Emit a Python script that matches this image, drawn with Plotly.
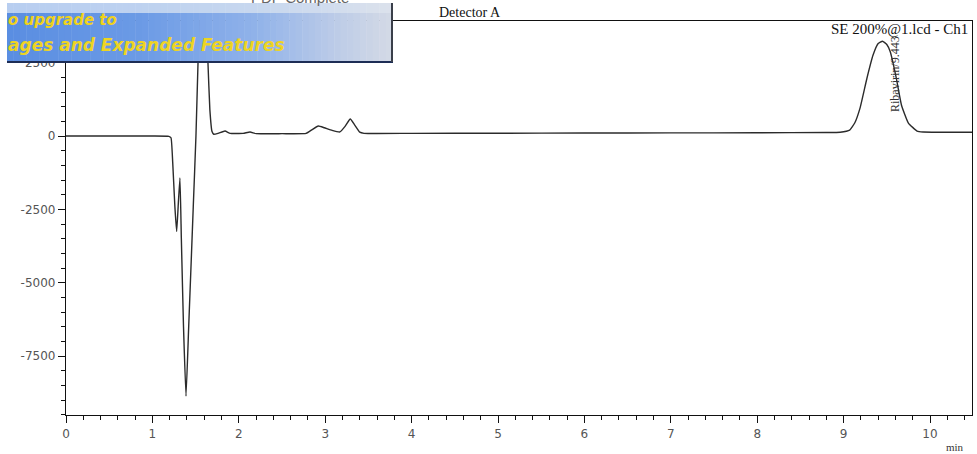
import numpy as np
import plotly.graph_objects as go

# Chromatogram trace, Detector A (retention time in min, signal in mV-like units)
time_min = [0.0, 0.5, 1.0, 1.19, 1.215, 1.235, 1.26, 1.281, 1.30, 1.319, 1.335, 1.36,
            1.389, 1.42, 1.45, 1.473, 1.504, 1.528, 1.56, 1.585, 1.61, 1.643, 1.665,
            1.69, 1.71, 1.76, 1.84, 1.90, 2.05, 2.13, 2.20, 2.50, 2.78, 2.85, 2.92,
            2.99, 3.08, 3.17, 3.23, 3.29, 3.34, 3.40, 3.45, 4.0, 5.0, 6.0, 7.0, 8.0,
            8.8, 8.96, 9.07, 9.13, 9.19, 9.27, 9.34, 9.40, 9.45, 9.50, 9.54, 9.61,
            9.67, 9.75, 9.85, 9.92, 10.1, 10.486]
signal = [0, 0, 0, -10, -60, -900, -2400, -3255, -2300, -1430, -3500, -6500,
          -8867, -6500, -4200, -2405, 0, 2500, 5200, 6000, 5200, 2500, 900,
          150, 60, 90, 170, 90, 90, 136, 80, 80, 90, 220, 340,
          280, 190, 140, 330, 580, 380, 130, 90, 90, 95, 100, 105, 110,
          120, 130, 200, 450, 950, 1970, 2750, 3150, 3230, 3120, 2870, 1970,
          1050, 440, 170, 136, 130, 130]

peak_name = "Ribavirin"
peak_rt = 9.443
x_tickvals = list(range(0, 11))
y_tickvals = [2500, 0, -2500, -5000, -7500]
y_ticktext = ["2500", "0", "-2500", "-5000", "-7500"]

W, H = 977, 454
ML, MR, MT, MB = 66, 5, 21, 39
PW, PH = W - ML - MR, H - MT - MB


def px(x):
    return (x - ML) / PW


def py(y):
    return (H - MB - y) / PH


fig = go.Figure()
fig.add_trace(go.Scatter(
    x=time_min, y=signal, mode="lines",
    line=dict(color="#2b2b2b", width=1.4, shape="spline", smoothing=0.4),
    hoverinfo="x+y", showlegend=False,
))

axis_common = dict(
    showline=True, linecolor="#111", linewidth=1.3, mirror=True,
    showgrid=False, zeroline=False, ticks="outside", ticklen=7,
    tickcolor="#111", tickwidth=1,
    tickfont=dict(family="DejaVu Sans", size=12, color="#555"),
)

fig.update_xaxes(range=[0, 10.486], tickvals=x_tickvals,
                 minor=dict(dtick=0.2, tick0=0, ticks="outside", ticklen=4,
                            tickcolor="#111"),
                 **axis_common)
fig.update_yaxes(range=[-9510, 3920], tickvals=y_tickvals, ticktext=y_ticktext,
                 minor=dict(dtick=500, tick0=0, ticks="outside", ticklen=4,
                            tickcolor="#111"),
                 **axis_common)

# Overlay banner in the top-left corner, drawn as vertical gradient strips
shapes = []
bx0, bx1, by0, by1, ystrip = 7, 392, 3, 62, 13
stops_x = [0.0, 0.35, 0.65, 0.85, 1.0]
body_cols = [(0x5a, 0x8e, 0xe2), (0x6c, 0x9b, 0xe6), (0x92, 0xb3, 0xea),
             (0xbc, 0xcc, 0xe8), (0xd4, 0xda, 0xe6)]
top_cols = [(0xb8, 0xce, 0xf0), (0xbe, 0xd2, 0xf0), (0xc8, 0xd8, 0xef),
            (0xd2, 0xdd, 0xee), (0xdc, 0xe2, 0xec)]
n = 60
edges = np.linspace(bx0, bx1, n + 1)
for i in range(n):
    f = (i + 0.5) / n
    cb = [int(np.interp(f, stops_x, [c[k] for c in body_cols])) for k in range(3)]
    ct = [int(np.interp(f, stops_x, [c[k] for c in top_cols])) for k in range(3)]
    shapes.append(dict(type="rect", xref="paper", yref="paper", layer="above",
                       x0=px(edges[i]), x1=px(edges[i + 1]) + 0.0005,
                       y0=py(by1), y1=py(ystrip), line=dict(width=0),
                       fillcolor="rgb(%d,%d,%d)" % tuple(cb)))
    shapes.append(dict(type="rect", xref="paper", yref="paper", layer="above",
                       x0=px(edges[i]), x1=px(edges[i + 1]) + 0.0005,
                       y0=py(ystrip), y1=py(by0), line=dict(width=0),
                       fillcolor="rgb(%d,%d,%d)" % tuple(ct)))
shapes.append(dict(type="line", xref="paper", yref="paper", layer="above",
                   x0=px(bx0), x1=px(bx1 + 1), y0=py(by1), y1=py(by1),
                   line=dict(color="#1d2d55", width=2)))
shapes.append(dict(type="line", xref="paper", yref="paper", layer="above",
                   x0=px(bx1), x1=px(bx1), y0=py(by1), y1=py(by0),
                   line=dict(color="#3a3f4a", width=2)))

serif = "Liberation Serif"


def label(text, x, y, size, color, family=serif, xanchor="center", **kw):
    return dict(text=text, x=x, y=y, xref=kw.pop("xref", "paper"), yref="paper",
                xanchor=xanchor, yanchor="middle", showarrow=False,
                font=dict(family=family, size=size, color=color), **kw)


annotations = [
    label("Detector A", px(470), py(13), 14, "#111"),
    label("SE 200%@1.lcd - Ch1", px(970), py(29), 15, "#111", xanchor="right"),
    label("min", px(955), py(447), 11, "#333"),
    label("%s/%.3f" % (peak_name, peak_rt), 9.595, py(74), 12, "#333",
          xref="x", textangle=-90),
    label("PDF Complete", px(300), py(-3), 15, "#666", family="Liberation Sans"),
    label("<b><i>o upgrade to</i></b>", px(6), py(20), 15, "#f0d21c",
          family="DejaVu Sans", xanchor="left"),
    label("<b><i>ages and Expanded Features</i></b>", px(6), py(45), 17, "#eed422",
          family="DejaVu Sans", xanchor="left"),
]

fig.update_layout(
    width=W, height=H, margin=dict(l=ML, r=MR, t=MT, b=MB),
    paper_bgcolor="white", plot_bgcolor="white",
    shapes=shapes, annotations=annotations, showlegend=False,
)

fig.write_html("out.html")
